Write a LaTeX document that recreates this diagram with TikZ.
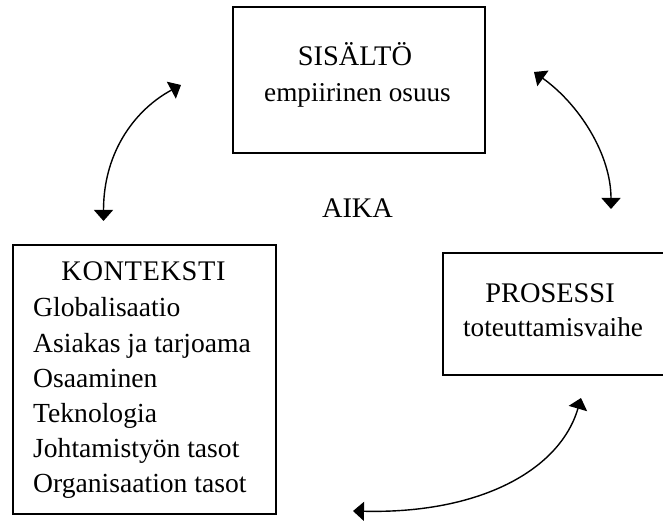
\documentclass[tikz,border=0pt]{standalone}
\usepackage{fontspec}
\setmainfont{Liberation Serif}
\usetikzlibrary{arrows.meta}
\begin{document}
\begin{tikzpicture}[x=1pt,y=-1pt,
  frame/.style={draw=black,line width=1.2pt,rectangle,inner sep=0pt},
  head/.style={font=\fontsize{28.4}{34}\selectfont,anchor=base},
  sub/.style={font=\fontsize{27.2}{33}\selectfont,anchor=base},
  item/.style={font=\fontsize{27.6}{33}\selectfont,anchor=base west,inner sep=0pt},
  link/.style={line width=1.4pt,{Triangle[width=19pt,length=11pt]}-{Triangle[width=19pt,length=11pt]}}]
  \useasboundingbox (0,0) rectangle (663,521);
  \clip (0,0) rectangle (663,521);
  \fill[white] (0,0) rectangle (663,521);

  % boxes
  \node[frame,minimum width=252pt,minimum height=146pt] (sisalto) at (359,80) {};
  \node[frame,minimum width=263pt,minimum height=269pt] (konteksti) at (144.5,379.5) {};
  \node[frame,minimum width=257pt,minimum height=122pt] (prosessi) at (571.5,314) {};

  % box texts
  \node[head] (t1) at (355,66) {SISÄLTÖ};
  \node[sub] (t2) at (357.5,102) {empiirinen osuus};
  \node[head] (aika) at (357.5,218) {AIKA};
  \node[head] (t3) at (143.5,280) {K\kern0.6pt O\kern0.6pt N\kern0.6pt T\kern0.6pt E\kern0.6pt K\kern0.6pt S\kern0.6pt T\kern0.6pt I};
  \node[item] (k1) at (33,316) {Globalisaatio};
  \node[item] (k2) at (33,352) {Asiakas ja tarjoama};
  \node[item] (k3) at (33,387) {Osaaminen};
  \node[item] (k4) at (33,422) {Teknologia};
  \node[item] (k5) at (33,457) {Johtamistyön tasot};
  \node[item] (k6) at (33,492) {Organisaation tasot};
  \node[head] (t4) at (550,302) {PROSESSI};
  \node[sub] (t5) at (553,336) {toteuttamisvaihe};

  % arrow end points
  \coordinate (a1) at (103.5,221);
  \coordinate (a2) at (181,85);
  \coordinate (b1) at (534,72);
  \coordinate (b2) at (611,209);
  \coordinate (c1) at (581,398);
  \coordinate (c2) at (353,511);

  % curved double arrows
  \draw[link] (a1) .. controls (103.5,150) and (137,108.5) .. (a2);
  \draw[link] (b1) .. controls (580,105) and (611,155) .. (b2);
  \draw[link] (c1) .. controls (560,470) and (480,514) .. (c2);
\end{tikzpicture}
\end{document}
